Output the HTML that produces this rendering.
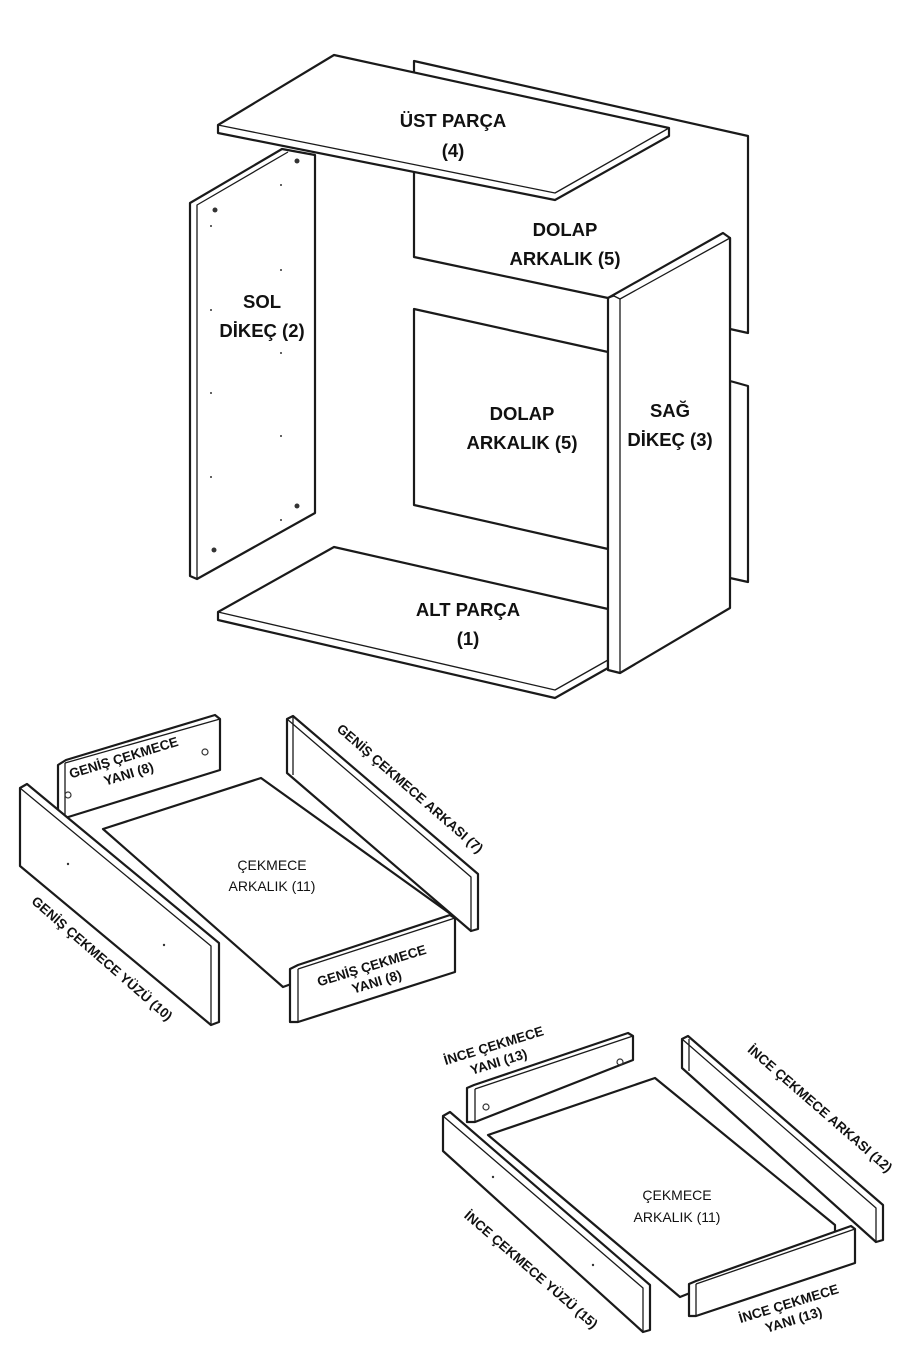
<!DOCTYPE html>
<html><head><meta charset="utf-8"><style>
html,body{margin:0;padding:0;background:#fff;}
svg{display:block}
text{font-family:"Liberation Sans",sans-serif;fill:#111;}
.b{font-weight:bold;font-size:18.5px;}
.s{font-weight:bold;font-size:13.5px;}
.m{font-size:14px;}
</style></head><body>
<svg width="900" height="1350" viewBox="0 0 900 1350" xmlns="http://www.w3.org/2000/svg">
<g fill="#fff" stroke="#1a1a1a" stroke-width="2.2" stroke-linejoin="round">
<polygon points="414,61 748,136 748,333 730,329 730,238 608,298 414,257"/>
<polygon points="414,309 608,352 608,549 414,505"/>
<polygon points="730,381 748,386 748,582 730,578"/>
<polygon points="190,203 282,149 315,155 315,513 197,579 190,576"/>
<polyline points="197,579 197,205 288,152" fill="none" stroke-width="1.3"/>
<polygon points="334,55 669,128 669,136 555,200 218,133 218,125"/>
<polyline points="218,125 555,193 669,128" fill="none" stroke-width="1.3"/>
<polygon points="334,547 608,609 608,668 555,698 218,620 218,612"/>
<polyline points="218,612 555,690 608,660" fill="none" stroke-width="1.3"/>
<polygon points="608,298 723,233 730,238 730,608 620,673 608,670"/>
<polyline points="608,298 614,296 620,299 730,238" fill="none" stroke-width="1.3"/>
<line x1="620" y1="299" x2="620" y2="673" stroke-width="1.3"/>

<polygon points="103,829 261,778 452,915 452,925 283,987"/>
<polygon points="58,765 66,760 215,715 220,719 220,770 65,818 58,815"/>
<line x1="65" y1="763" x2="65" y2="818" stroke-width="1.3"/>
<line x1="65" y1="763" x2="220" y2="719" stroke-width="1.3"/>
<polygon points="20,788 27,784 219,943 219,1022 211,1025 20,866"/>
<polyline points="20,788 211,946 211,1025" fill="none" stroke-width="1.3"/>
<polygon points="287,719 293,716 478,874 478,929 471,931 287,773"/>
<polyline points="293,716 293,775" fill="none" stroke-width="1.3"/>
<polyline points="287,719 471,877 471,931" fill="none" stroke-width="1.3"/>
<polygon points="290,969 298,965 450,915 455,918 455,972 298,1022 290,1022"/>
<polyline points="298,969 298,1022" fill="none" stroke-width="1.3"/>
<polyline points="298,969 455,918" fill="none" stroke-width="1.3"/>

<polygon points="488,1135 655,1078 835,1225 835,1235 680,1297"/>
<polygon points="467,1088 474,1085 628,1033 633,1036 633,1060 475,1122 467,1122"/>
<polyline points="475,1089 475,1122" fill="none" stroke-width="1.3"/>
<polyline points="475,1089 633,1036" fill="none" stroke-width="1.3"/>
<polygon points="443,1116 450,1112 650,1285 650,1330 643,1332 443,1151"/>
<polyline points="443,1116 643,1288 643,1332" fill="none" stroke-width="1.3"/>
<polygon points="682,1039 688,1036 883,1205 883,1240 876,1242 682,1068"/>
<polyline points="689,1039 689,1071" fill="none" stroke-width="1.3"/>
<polyline points="682,1039 876,1208 876,1242" fill="none" stroke-width="1.3"/>
<polygon points="689,1284 696,1281 851,1226 855,1229 855,1263 696,1316 689,1316"/>
<polyline points="696,1284 696,1316" fill="none" stroke-width="1.3"/>
<polyline points="696,1284 855,1229" fill="none" stroke-width="1.3"/>
</g>
<g fill="#333">
<circle cx="215" cy="210" r="2.5"/><circle cx="297" cy="161" r="2.5"/><circle cx="297" cy="506" r="2.5"/><circle cx="214" cy="550" r="2.5"/>
<circle cx="211" cy="226" r="1"/><circle cx="281" cy="185" r="1"/><circle cx="281" cy="270" r="1"/><circle cx="211" cy="310" r="1"/><circle cx="281" cy="353" r="1"/><circle cx="211" cy="393" r="1"/><circle cx="281" cy="436" r="1"/><circle cx="211" cy="477" r="1"/><circle cx="281" cy="520" r="1"/>
<circle cx="68" cy="795" r="3" fill="none" stroke="#333" stroke-width="1.2"/><circle cx="205" cy="752" r="3" fill="none" stroke="#333" stroke-width="1.2"/>
<circle cx="68" cy="864" r="1.2"/><circle cx="164" cy="945" r="1.2"/>
<circle cx="486" cy="1107" r="3" fill="none" stroke="#333" stroke-width="1.2"/><circle cx="620" cy="1062" r="3" fill="none" stroke="#333" stroke-width="1.2"/>
<circle cx="493" cy="1177" r="1.2"/><circle cx="593" cy="1265" r="1.2"/>
</g>
<g text-anchor="middle">
<text class="b" x="453" y="127">ÜST PARÇA</text>
<text class="b" x="453" y="157">(4)</text>
<text class="b" x="565" y="236">DOLAP</text>
<text class="b" x="565" y="265">ARKALIK (5)</text>
<text class="b" x="262" y="308">SOL</text>
<text class="b" x="262" y="337">DİKEÇ (2)</text>
<text class="b" x="522" y="420">DOLAP</text>
<text class="b" x="522" y="449">ARKALIK (5)</text>
<text class="b" x="670" y="417">SAĞ</text>
<text class="b" x="670" y="446">DİKEÇ (3)</text>
<text class="b" x="468" y="616">ALT PARÇA</text>
<text class="b" x="468" y="645">(1)</text>
<text class="m" x="272" y="870">ÇEKMECE</text>
<text class="m" x="272" y="891">ARKALIK (11)</text>
<text class="m" x="677" y="1200">ÇEKMECE</text>
<text class="m" x="677" y="1222">ARKALIK (11)</text>
<g transform="translate(125,762) rotate(-17)"><text class="s" x="0" y="0">GENİŞ ÇEKMECE</text><text class="s" x="0" y="17">YANI (8)</text></g>
<g transform="translate(373,970) rotate(-17)"><text class="s" x="0" y="0">GENİŞ ÇEKMECE</text><text class="s" x="0" y="17">YANI (8)</text></g>
<g transform="translate(495,1050) rotate(-17)"><text class="s" x="0" y="0">İNCE ÇEKMECE</text><text class="s" x="0" y="17">YANI (13)</text></g>
<g transform="translate(790,1308) rotate(-17)"><text class="s" x="0" y="0">İNCE ÇEKMECE</text><text class="s" x="0" y="17">YANI (13)</text></g>
<text class="s" transform="translate(407,792) rotate(41)">GENİŞ ÇEKMECE ARKASI (7)</text>
<text class="s" transform="translate(99,962) rotate(41)">GENİŞ ÇEKMECE YÜZÜ (10)</text>
<text class="s" transform="translate(817,1112) rotate(41)">İNCE ÇEKMECE ARKASI (12)</text>
<text class="s" transform="translate(528,1273) rotate(41)">İNCE ÇEKMECE YÜZÜ (15)</text>
</g>
</svg>
</body></html>
